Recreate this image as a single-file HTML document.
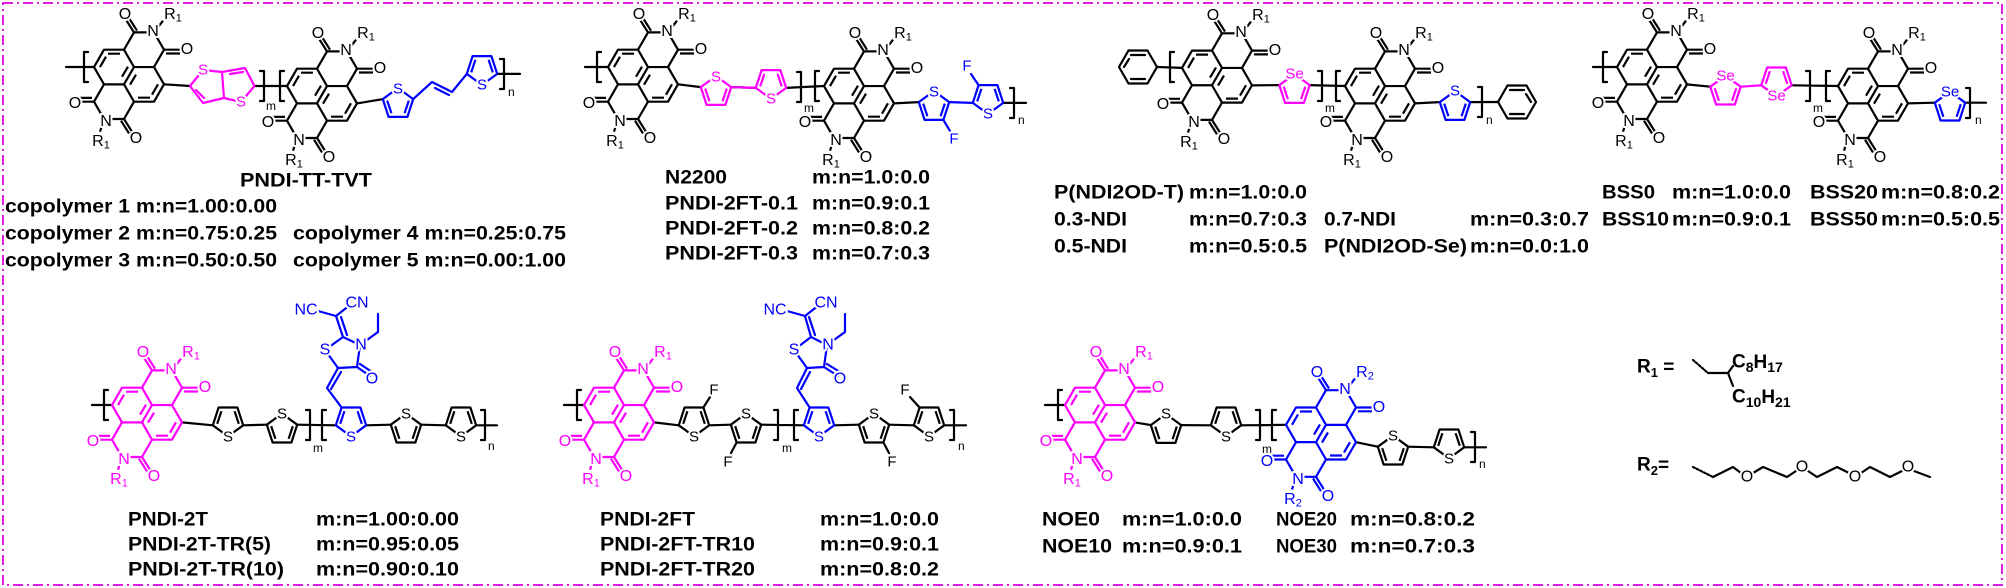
<!DOCTYPE html>
<html><head><meta charset="utf-8"><style>
html,body{margin:0;padding:0;background:#fff;}
svg{display:block;}
.at text{font-family:"Liberation Sans",sans-serif;font-size:16px;text-anchor:middle;dominant-baseline:central;fill:currentColor;paint-order:stroke;stroke:#fff;stroke-width:4px;stroke-linejoin:round;}
.sl{font-family:"Liberation Sans",sans-serif;font-size:15px;text-anchor:middle;dominant-baseline:central;paint-order:stroke;stroke:#fff;stroke-width:4px;}
.lb{font-family:"Liberation Sans Narrow","Liberation Sans",sans-serif;font-weight:bold;font-size:19px;dominant-baseline:central;fill:#000;}
.sm{font-family:"Liberation Sans",sans-serif;font-size:12px;dominant-baseline:central;}
.bd{fill:none;stroke-width:2.2;stroke-linejoin:round;stroke-linecap:round;}
</style></head><body>
<svg width="2006" height="588" viewBox="0 0 2006 588" xmlns="http://www.w3.org/2000/svg">
<defs>
<g id="ndi" fill="none" stroke="currentColor" stroke-width="2.2" stroke-linejoin="round">
<path d="M-35,-8.66 L-25,-26 L-5,-26 L5,-8.66 L-5,8.66 L-25,8.66 Z M5,-8.66 L25,-8.66 L35,8.66 L25,26 L5,26 L-5,8.66 M-5,-26 L5,-43.3 L25,-43.3 L35,-26 L25,-8.66 M-25,8.66 L-35,26 L-25,43.3 L-5,43.3 L5,26"/>
<path d="M5,-43.3 L-3,-56 M8,-45 L0,-57.7 M35,-26 L51,-26 M37,-22.2 L51,-22.2 M-35,26 L-51,26 M-37,22.2 L-51,22.2 M-5,43.3 L3,56 M-8,45 L0,57.7 M25,-43.3 L34,-55 M-25,43.3 L-29,56"/>
<path d="M-21,-22 L-9,-22 M-29,-8.66 L-23,-19 M9,22 L21,22 M29,8.66 L23,19 M-1,-9 L-7,1 M1,9 L7,-1"/>
</g>
<path id="th" fill="none" stroke="currentColor" stroke-width="2.2" stroke-linejoin="round" d="M-15.2,4.9 L-9.4,-12.9 L9.4,-12.9 L15.2,4.9 L0,16 Z M-10.8,3.4 L-6.6,-9.2 M10.8,3.4 L6.6,-9.2"/>
<path id="thu" fill="none" stroke="currentColor" stroke-width="2.2" stroke-linejoin="round" d="M-15.2,-4.9 L-9.4,12.9 L9.4,12.9 L15.2,-4.9 L0,-16 Z M-10.8,-3.4 L-6.6,9.2 M10.8,-3.4 L6.6,9.2"/>
</defs>

<rect x="3" y="3" width="1999" height="582" fill="none" stroke="#e020e0" stroke-width="2" stroke-dasharray="10,4,2,4"/>

<!-- ===== P1 PNDI-TT-TVT ===== -->
<g class="bd" stroke="#000">
<path d="M66,67 H94 M88,52 H84 V82 H88 M164,84.3 L190,86 M254.5,86 L287,86 M260,71 H264 V101 H260 M284,71 H280 V101 H284 M357,103.4 L382.8,99.1 M497.2,73.9 L520,73.9 M500,59 H504 V89 H500"/>
</g>
<text class="sm" x="266" y="106">m</text><text class="sm" x="508" y="92">n</text>
<g transform="translate(129,75.7)" color="#000"><use href="#ndi"/><g class="at"><text x="-4" y="-61">O</text><text x="24" y="-44">N</text><text x="44" y="-61">R<tspan font-size="11" dy="4">1</tspan></text><text x="58" y="-26">O</text><text x="-54" y="28">O</text><text x="-23" y="46">N</text><text x="-28" y="66">R<tspan font-size="11" dy="4">1</tspan></text><text x="7" y="63">O</text></g></g>
<g transform="translate(322,94.7)" color="#000"><use href="#ndi"/><g class="at"><text x="-4" y="-61">O</text><text x="24" y="-44">N</text><text x="44" y="-61">R<tspan font-size="11" dy="4">1</tspan></text><text x="58" y="-26">O</text><text x="-54" y="28">O</text><text x="-23" y="46">N</text><text x="-28" y="66">R<tspan font-size="11" dy="4">1</tspan></text><text x="7" y="63">O</text></g></g>
<g class="bd" stroke="#f0f"><path d="M190,86 L203,70 L222,72 L224,98 L203,103 Z M222,72 L245,68 L254.5,86 L241,102 L224,98 M196,90 L204,98 M230,74 L243,72"/></g>
<text class="sl" x="203" y="70" fill="#f0f">S</text><text class="sl" x="241" y="102" fill="#f0f">S</text>
<g color="#00f"><use href="#thu" x="398" y="104"/><use href="#th" x="482" y="69"/></g>
<g class="bd" stroke="#00f"><path d="M413.2,99.1 L432,82 L452,92 L466.8,73.9 M435,88 L449,95"/></g>
<text class="sl" x="398" y="89" fill="#00f">S</text><text class="sl" x="482" y="85" fill="#00f">S</text>
<text class="lb" x="240" y="181" font-size="21" textLength="132" lengthAdjust="spacingAndGlyphs">PNDI-TT-TVT</text>
<text class="lb" x="5" y="207" textLength="272" lengthAdjust="spacingAndGlyphs">copolymer 1 m:n=1.00:0.00</text>
<text class="lb" x="5" y="234" textLength="272" lengthAdjust="spacingAndGlyphs">copolymer 2 m:n=0.75:0.25</text>
<text class="lb" x="5" y="261" textLength="272" lengthAdjust="spacingAndGlyphs">copolymer 3 m:n=0.50:0.50</text>
<text class="lb" x="293" y="234" textLength="273" lengthAdjust="spacingAndGlyphs">copolymer 4 m:n=0.25:0.75</text>
<text class="lb" x="293" y="261" textLength="273" lengthAdjust="spacingAndGlyphs">copolymer 5 m:n=0.00:1.00</text>

<!-- ===== P2 N2200 ===== -->
<g class="bd" stroke="#000">
<path d="M585,67 H608 M601,52 H597 V82 H601 M678,84.3 L700.8,87.1 M731.2,87.1 L755.8,87.9 M786.2,87.9 L824,86 M797,72 H801 V102 H797 M819,71 H815 V101 H819 M894,103.4 L918.8,102.1 M1003.2,102.9 L1026,102.9 M1010,88 H1014 V118 H1010"/>
</g>
<text class="sm" x="804" y="108">m</text><text class="sm" x="1018" y="120">n</text>
<g transform="translate(643,75.7)" color="#000"><use href="#ndi"/><g class="at"><text x="-4" y="-61">O</text><text x="24" y="-44">N</text><text x="44" y="-61">R<tspan font-size="11" dy="4">1</tspan></text><text x="58" y="-26">O</text><text x="-54" y="28">O</text><text x="-23" y="46">N</text><text x="-28" y="66">R<tspan font-size="11" dy="4">1</tspan></text><text x="7" y="63">O</text></g></g>
<g transform="translate(859,94.7)" color="#000"><use href="#ndi"/><g class="at"><text x="-4" y="-61">O</text><text x="24" y="-44">N</text><text x="44" y="-61">R<tspan font-size="11" dy="4">1</tspan></text><text x="58" y="-26">O</text><text x="-54" y="28">O</text><text x="-23" y="46">N</text><text x="-28" y="66">R<tspan font-size="11" dy="4">1</tspan></text><text x="7" y="63">O</text></g></g>
<g color="#f0f"><use href="#thu" x="716" y="92"/><use href="#th" x="771" y="83"/></g>
<g class="bd" stroke="#f0f"><path d="M731.2,87.1 L755.8,87.9"/></g>
<text class="sl" x="716" y="77" fill="#f0f">S</text><text class="sl" x="771" y="99" fill="#f0f">S</text>
<g color="#00f"><use href="#thu" x="934" y="107"/><use href="#th" x="988" y="98"/></g>
<g class="bd" stroke="#00f"><path d="M949.2,102.1 L972.8,102.9 M943.4,119.9 L950,131 M978.6,85.1 L971,74"/></g>
<text class="sl" x="934" y="92" fill="#00f">S</text><text class="sl" x="988" y="114" fill="#00f">S</text>
<text class="sl" x="954" y="139" fill="#00f">F</text><text class="sl" x="967" y="66" fill="#00f">F</text>
<text class="lb" x="665" y="178" textLength="62" lengthAdjust="spacingAndGlyphs">N2200</text>
<text class="lb" x="665" y="204" textLength="133" lengthAdjust="spacingAndGlyphs">PNDI-2FT-0.1</text>
<text class="lb" x="665" y="229" textLength="133" lengthAdjust="spacingAndGlyphs">PNDI-2FT-0.2</text>
<text class="lb" x="665" y="254" textLength="133" lengthAdjust="spacingAndGlyphs">PNDI-2FT-0.3</text>
<text class="lb" x="812" y="178" textLength="118" lengthAdjust="spacingAndGlyphs">m:n=1.0:0.0</text>
<text class="lb" x="812" y="204" textLength="118" lengthAdjust="spacingAndGlyphs">m:n=0.9:0.1</text>
<text class="lb" x="812" y="229" textLength="118" lengthAdjust="spacingAndGlyphs">m:n=0.8:0.2</text>
<text class="lb" x="812" y="254" textLength="118" lengthAdjust="spacingAndGlyphs">m:n=0.7:0.3</text>

<!-- ===== P3 P(NDI2OD-T) ===== -->
<g class="bd" stroke="#000">
<path d="M1119,67 L1128.5,50.5 L1147.5,50.5 L1157,67 L1147.5,83.5 L1128.5,83.5 Z M1131,55 L1145,55 M1131,79 L1145,79 M1124,67 L1129,59"/>
<path d="M1157,67 L1182,67.9 M1174,52 H1170 V82 H1174 M1252,85.4 L1279.3,85.1 M1309.7,85.1 L1345,86 M1318,71 H1322 V101 H1318 M1340,71 H1336 V101 H1340 M1415,103.4 L1439.8,102.1 M1470.2,102.1 L1498,102 M1478,87 H1482 V117 H1478"/>
<path d="M1498,102 L1507.5,85.5 L1526.5,85.5 L1536,102 L1526.5,118.5 L1507.5,118.5 Z M1510,90 L1524,90 M1510,114 L1524,114 M1531,102 L1526,94"/>
</g>
<text class="sm" x="1325" y="108">m</text><text class="sm" x="1486" y="120">n</text>
<g transform="translate(1217,76.6)" color="#000"><use href="#ndi"/><g class="at"><text x="-4" y="-61">O</text><text x="24" y="-44">N</text><text x="44" y="-61">R<tspan font-size="11" dy="4">1</tspan></text><text x="58" y="-26">O</text><text x="-54" y="28">O</text><text x="-23" y="46">N</text><text x="-28" y="66">R<tspan font-size="11" dy="4">1</tspan></text><text x="7" y="63">O</text></g></g>
<g transform="translate(1380,94.7)" color="#000"><use href="#ndi"/><g class="at"><text x="-4" y="-61">O</text><text x="24" y="-44">N</text><text x="44" y="-61">R<tspan font-size="11" dy="4">1</tspan></text><text x="58" y="-26">O</text><text x="-54" y="28">O</text><text x="-23" y="46">N</text><text x="-28" y="66">R<tspan font-size="11" dy="4">1</tspan></text><text x="7" y="63">O</text></g></g>
<g color="#f0f"><use href="#thu" x="1294.5" y="90"/></g>
<text class="sl" x="1294.5" y="74" fill="#f0f">Se</text>
<g color="#00f"><use href="#thu" x="1455" y="107"/></g>
<text class="sl" x="1455" y="91" fill="#00f">S</text>
<text class="lb" x="1054" y="193" textLength="130" lengthAdjust="spacingAndGlyphs">P(NDI2OD-T)</text>
<text class="lb" x="1189" y="193" textLength="118" lengthAdjust="spacingAndGlyphs">m:n=1.0:0.0</text>
<text class="lb" x="1054" y="220" textLength="73" lengthAdjust="spacingAndGlyphs">0.3-NDI</text>
<text class="lb" x="1189" y="220" textLength="118" lengthAdjust="spacingAndGlyphs">m:n=0.7:0.3</text>
<text class="lb" x="1054" y="247" textLength="73" lengthAdjust="spacingAndGlyphs">0.5-NDI</text>
<text class="lb" x="1189" y="247" textLength="118" lengthAdjust="spacingAndGlyphs">m:n=0.5:0.5</text>
<text class="lb" x="1324" y="220" textLength="72" lengthAdjust="spacingAndGlyphs">0.7-NDI</text>
<text class="lb" x="1470" y="220" textLength="119" lengthAdjust="spacingAndGlyphs">m:n=0.3:0.7</text>
<text class="lb" x="1324" y="247" textLength="143" lengthAdjust="spacingAndGlyphs">P(NDI2OD-Se)</text>
<text class="lb" x="1470" y="247" textLength="119" lengthAdjust="spacingAndGlyphs">m:n=0.0:1.0</text>

<!-- ===== P4 BSS ===== -->
<g class="bd" stroke="#000">
<path d="M1593,67 H1617 M1607,52 H1603 V82 H1607 M1687,84.4 L1710.3,86.7 M1791.7,85.3 L1838,86 M1806,71 H1810 V101 H1806 M1830,71 H1826 V101 H1830 M1908,103.4 L1934.8,102.7 M1965.2,102.7 L1986,102.7 M1966,88 H1970 V118 H1966"/>
</g>
<text class="sm" x="1813" y="108">m</text><text class="sm" x="1975" y="120">n</text>
<g transform="translate(1652,75.7)" color="#000"><use href="#ndi"/><g class="at"><text x="-4" y="-61">O</text><text x="24" y="-44">N</text><text x="44" y="-61">R<tspan font-size="11" dy="4">1</tspan></text><text x="58" y="-26">O</text><text x="-54" y="28">O</text><text x="-23" y="46">N</text><text x="-28" y="66">R<tspan font-size="11" dy="4">1</tspan></text><text x="7" y="63">O</text></g></g>
<g transform="translate(1873,94.7)" color="#000"><use href="#ndi"/><g class="at"><text x="-4" y="-61">O</text><text x="24" y="-44">N</text><text x="44" y="-61">R<tspan font-size="11" dy="4">1</tspan></text><text x="58" y="-26">O</text><text x="-54" y="28">O</text><text x="-23" y="46">N</text><text x="-28" y="66">R<tspan font-size="11" dy="4">1</tspan></text><text x="7" y="63">O</text></g></g>
<g color="#f0f"><use href="#thu" x="1725.5" y="91.6"/><use href="#th" x="1776.5" y="80.4"/></g>
<g class="bd" stroke="#f0f"><path d="M1740.7,86.7 L1761.3,85.3"/></g>
<text class="sl" x="1725.5" y="76" fill="#f0f">Se</text><text class="sl" x="1776.5" y="96" fill="#f0f">Se</text>
<g color="#00f"><use href="#thu" x="1950" y="107.6"/></g>
<text class="sl" x="1950" y="92" fill="#00f">Se</text>
<text class="lb" x="1602" y="193" textLength="53" lengthAdjust="spacingAndGlyphs">BSS0</text>
<text class="lb" x="1672" y="193" textLength="119" lengthAdjust="spacingAndGlyphs">m:n=1.0:0.0</text>
<text class="lb" x="1810" y="193" textLength="68" lengthAdjust="spacingAndGlyphs">BSS20</text>
<text class="lb" x="1881" y="193" textLength="119" lengthAdjust="spacingAndGlyphs">m:n=0.8:0.2</text>
<text class="lb" x="1602" y="220" textLength="67" lengthAdjust="spacingAndGlyphs">BSS10</text>
<text class="lb" x="1672" y="220" textLength="119" lengthAdjust="spacingAndGlyphs">m:n=0.9:0.1</text>
<text class="lb" x="1810" y="220" textLength="68" lengthAdjust="spacingAndGlyphs">BSS50</text>
<text class="lb" x="1881" y="220" textLength="119" lengthAdjust="spacingAndGlyphs">m:n=0.5:0.5</text>

<!-- ===== P5 PNDI-2T ===== -->
<g class="bd" stroke="#000">
<path d="M92,405 H112 M108,390 H104 V420 H108 M182,422.4 L212.8,425.3 M243.2,425.3 L266.8,424.7 M297.2,424.7 L335.8,425.3 M306,410 H310 V440 H306 M326,410 H322 V440 H326 M366.2,425.3 L390.8,424.7 M421.2,424.7 L445.8,425.3 M476.2,425.3 L497,425.3 M481,410 H485 V440 H481"/>
</g>
<text class="sm" x="313" y="448">m</text><text class="sm" x="488" y="446">n</text>
<g transform="translate(147,413.7)" color="#f0f"><use href="#ndi"/><g class="at"><text x="-4" y="-61">O</text><text x="24" y="-44">N</text><text x="44" y="-61">R<tspan font-size="11" dy="4">1</tspan></text><text x="58" y="-26">O</text><text x="-54" y="28">O</text><text x="-23" y="46">N</text><text x="-28" y="66">R<tspan font-size="11" dy="4">1</tspan></text><text x="7" y="63">O</text></g></g>
<g color="#000"><use href="#th" x="228" y="420.4"/><use href="#thu" x="282" y="429.6"/><use href="#thu" x="406" y="429.6"/><use href="#th" x="461" y="420.4"/></g>
<text class="sl" x="228" y="437" fill="#000">S</text><text class="sl" x="282" y="414" fill="#000">S</text><text class="sl" x="406" y="414" fill="#000">S</text><text class="sl" x="461" y="437" fill="#000">S</text>
<g color="#00f"><use href="#th" x="351" y="420.4"/></g>
<g class="bd" stroke="#00f"><path d="M341.6,407.5 L327,388 L338,368 M331,389 L341,372 M338,368 L325,350 L343,337 L360,345 L357,367 Z M357,367 L370,376 M360,364 L372,372 M343,337 L336,316 M347,335 L341,317 M336,316 L318,311 M336,316 L350,305 M360,345 L378,332 L378,314"/></g>
<text class="sl" x="351" y="437" fill="#00f">S</text>
<g class="at" color="#00f"><text x="325" y="350">S</text><text x="361" y="345">N</text><text x="372" y="379">O</text><text x="306" y="310">NC</text><text x="357" y="303">CN</text></g>
<text class="lb" x="128" y="520" textLength="80" lengthAdjust="spacingAndGlyphs">PNDI-2T</text>
<text class="lb" x="128" y="545" textLength="143" lengthAdjust="spacingAndGlyphs">PNDI-2T-TR(5)</text>
<text class="lb" x="128" y="570" textLength="156" lengthAdjust="spacingAndGlyphs">PNDI-2T-TR(10)</text>
<text class="lb" x="316" y="520" textLength="143" lengthAdjust="spacingAndGlyphs">m:n=1.00:0.00</text>
<text class="lb" x="316" y="545" textLength="143" lengthAdjust="spacingAndGlyphs">m:n=0.95:0.05</text>
<text class="lb" x="316" y="570" textLength="143" lengthAdjust="spacingAndGlyphs">m:n=0.90:0.10</text>

<!-- ===== P6 PNDI-2FT ===== -->
<g class="bd" stroke="#000">
<path d="M564,405 H584 M581,390 H577 V420 H581 M654,422.4 L678.8,425.3 M709.2,425.3 L730.8,424.7 M761.2,424.7 L803.8,425.3 M774,410 H778 V440 H774 M798,410 H794 V440 H798 M834.2,425.3 L858.8,424.7 M889.2,424.7 L913.8,425.3 M944.2,425.3 L966,425.3 M950,410 H954 V440 H950 M703.4,407.5 L710,397 M736.6,442.5 L731,453 M883.4,442.5 L889,453 M919.6,407.5 L910,397"/>
</g>
<text class="sm" x="782" y="448">m</text><text class="sm" x="958" y="446">n</text>
<g transform="translate(619,413.7)" color="#f0f"><use href="#ndi"/><g class="at"><text x="-4" y="-61">O</text><text x="24" y="-44">N</text><text x="44" y="-61">R<tspan font-size="11" dy="4">1</tspan></text><text x="58" y="-26">O</text><text x="-54" y="28">O</text><text x="-23" y="46">N</text><text x="-28" y="66">R<tspan font-size="11" dy="4">1</tspan></text><text x="7" y="63">O</text></g></g>
<g color="#000"><use href="#th" x="694" y="420.4"/><use href="#thu" x="746" y="429.6"/><use href="#thu" x="874" y="429.6"/><use href="#th" x="929" y="420.4"/></g>
<text class="sl" x="694" y="437" fill="#000">S</text><text class="sl" x="746" y="414" fill="#000">S</text><text class="sl" x="874" y="414" fill="#000">S</text><text class="sl" x="929" y="437" fill="#000">S</text>
<text class="sl" x="714" y="390" fill="#000">F</text><text class="sl" x="728" y="462" fill="#000">F</text><text class="sl" x="892" y="462" fill="#000">F</text><text class="sl" x="905" y="390" fill="#000">F</text>
<g color="#00f"><use href="#th" x="819" y="420.4"/></g>
<g class="bd" stroke="#00f"><path d="M809.6,407.5 L797,388 L807,368 M801,389 L810,372 M807,368 L794,350 L811,337 L827,345 L824,367 Z M824,367 L838,376 M827,364 L840,372 M811,337 L805,316 M815,335 L809,317 M805,316 L787,311 M805,316 L819,305 M827,345 L845,332 L845,314"/></g>
<text class="sl" x="819" y="437" fill="#00f">S</text>
<g class="at" color="#00f"><text x="794" y="350">S</text><text x="828" y="345">N</text><text x="840" y="379">O</text><text x="775" y="310">NC</text><text x="826" y="303">CN</text></g>
<text class="lb" x="600" y="520" textLength="95" lengthAdjust="spacingAndGlyphs">PNDI-2FT</text>
<text class="lb" x="600" y="545" textLength="155" lengthAdjust="spacingAndGlyphs">PNDI-2FT-TR10</text>
<text class="lb" x="600" y="570" textLength="155" lengthAdjust="spacingAndGlyphs">PNDI-2FT-TR20</text>
<text class="lb" x="820" y="520" textLength="119" lengthAdjust="spacingAndGlyphs">m:n=1.0:0.0</text>
<text class="lb" x="820" y="545" textLength="119" lengthAdjust="spacingAndGlyphs">m:n=0.9:0.1</text>
<text class="lb" x="820" y="570" textLength="119" lengthAdjust="spacingAndGlyphs">m:n=0.8:0.2</text>

<!-- ===== P7 NOE ===== -->
<g class="bd" stroke="#000">
<path d="M1045,405 H1065 M1062,390 H1058 V420 H1062 M1135,422.4 L1150.8,425.1 M1181.2,425.1 L1210.8,425.3 M1241.2,425.3 L1286,424.8 M1256,410 H1260 V440 H1256 M1276,410 H1272 V440 H1276 M1356,442.2 L1377.8,446.7 M1408.2,446.7 L1433.8,447.3 M1464.2,447.3 L1486,447.3 M1471,432 H1475 V462 H1471"/>
</g>
<text class="sm" x="1262" y="449">m</text><text class="sm" x="1479" y="464">n</text>
<g transform="translate(1100,413.7)" color="#f0f"><use href="#ndi"/><g class="at"><text x="-4" y="-61">O</text><text x="24" y="-44">N</text><text x="44" y="-61">R<tspan font-size="11" dy="4">1</tspan></text><text x="58" y="-26">O</text><text x="-54" y="28">O</text><text x="-23" y="46">N</text><text x="-28" y="66">R<tspan font-size="11" dy="4">1</tspan></text><text x="7" y="63">O</text></g></g>
<g transform="translate(1321,433.5)" color="#00f"><use href="#ndi"/><g class="at"><text x="-4" y="-61">O</text><text x="24" y="-44">N</text><text x="44" y="-61">R<tspan font-size="11" dy="4">2</tspan></text><text x="58" y="-26">O</text><text x="-54" y="28">O</text><text x="-23" y="46">N</text><text x="-28" y="66">R<tspan font-size="11" dy="4">2</tspan></text><text x="7" y="63">O</text></g></g>
<g color="#000"><use href="#thu" x="1166" y="430"/><use href="#th" x="1226" y="420.4"/><use href="#thu" x="1393" y="451.6"/><use href="#th" x="1449" y="442.4"/></g>
<text class="sl" x="1166" y="414" fill="#000">S</text><text class="sl" x="1226" y="437" fill="#000">S</text><text class="sl" x="1393" y="436" fill="#000">S</text><text class="sl" x="1449" y="459" fill="#000">S</text>
<text class="lb" x="1042" y="520" textLength="58" lengthAdjust="spacingAndGlyphs">NOE0</text>
<text class="lb" x="1122" y="520" textLength="120" lengthAdjust="spacingAndGlyphs">m:n=1.0:0.0</text>
<text class="lb" x="1276" y="520" textLength="61" lengthAdjust="spacingAndGlyphs">NOE20</text>
<text class="lb" x="1350" y="520" textLength="125" lengthAdjust="spacingAndGlyphs">m:n=0.8:0.2</text>
<text class="lb" x="1042" y="547" textLength="70" lengthAdjust="spacingAndGlyphs">NOE10</text>
<text class="lb" x="1122" y="547" textLength="120" lengthAdjust="spacingAndGlyphs">m:n=0.9:0.1</text>
<text class="lb" x="1276" y="547" textLength="61" lengthAdjust="spacingAndGlyphs">NOE30</text>
<text class="lb" x="1350" y="547" textLength="125" lengthAdjust="spacingAndGlyphs">m:n=0.7:0.3</text>

<!-- ===== R groups ===== -->
<text class="lb" x="1637" y="367" font-size="20">R<tspan font-size="13" dy="5">1</tspan><tspan dy="-5"> =</tspan></text>
<g class="bd" stroke="#000">
<path d="M1693,360 L1708,373" stroke-dasharray="2,2"/>
<path d="M1708,373 L1728,373 L1733,366 M1728,373 L1733,386"/>
<path d="M1693,467 L1713,477" stroke-dasharray="2,2"/>
<path d="M1713,477 L1733,467 L1741,473 M1753,473 L1763,467 L1787,477 L1796,471 M1808,471 L1817,477 L1837,467 L1849,473 M1861,473 L1870,467 L1890,477 L1902,471 M1914,471 L1930,477"/>
</g>
<text class="lb" x="1732" y="362" font-size="20">C<tspan font-size="14" dy="5">8</tspan><tspan dy="-5">H</tspan><tspan font-size="14" dy="5">17</tspan></text>
<text class="lb" x="1732" y="397" font-size="20">C<tspan font-size="14" dy="5">10</tspan><tspan dy="-5">H</tspan><tspan font-size="14" dy="5">21</tspan></text>
<text class="lb" x="1637" y="465" font-size="20">R<tspan font-size="13" dy="5">2</tspan><tspan dy="-5">=</tspan></text>
<g class="at" color="#000"><text x="1747" y="477">O</text><text x="1802" y="467">O</text><text x="1855" y="477">O</text><text x="1908" y="467">O</text></g>
</svg>
</body></html>
